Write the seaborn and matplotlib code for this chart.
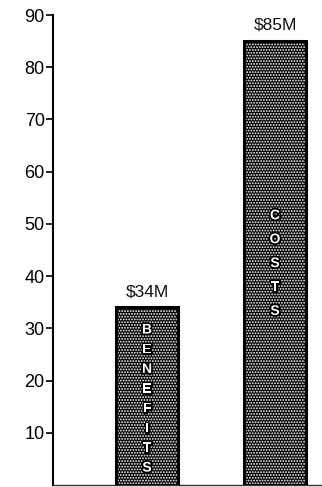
import matplotlib
matplotlib.use("Agg")
import matplotlib.pyplot as plt
from matplotlib.patches import Rectangle
import matplotlib.patheffects as pe
import seaborn as sns
import pandas as pd

categories = ["Benefits", "Costs"]
values = [34, 85]
value_labels = ["$34M", "$85M"]
inner_labels = ["BENEFITS", "COSTS"]
yticks = [10, 20, 30, 40, 50, 60, 70, 80, 90]

sns.set_style("white")
plt.rcParams["font.family"] = ["Liberation Sans", "DejaVu Sans"]
plt.rcParams["hatch.linewidth"] = 0.9

df = pd.DataFrame({"category": categories, "value": values})

fig = plt.figure(figsize=(3.22, 4.87), dpi=100)
ax = fig.add_axes([53/322, 2/487, 269/322, 470/487])

sns.barplot(data=df, x="category", y="value", color="black", width=0.49,
            ax=ax, saturation=1)

for p, lab in zip(ax.patches, value_labels):
    p.set_facecolor("black")
    p.set_edgecolor("white")
    p.set_hatch("......")
    p.set_linewidth(0)
    ax.add_patch(Rectangle((p.get_x(), p.get_y()), p.get_width(), p.get_height(),
                           fill=False, edgecolor="black", linewidth=2.2, zorder=3))
    cx = p.get_x() + p.get_width() / 2
    ax.annotate(lab, (cx, p.get_height()), xytext=(0, 6), textcoords="offset points",
                ha="center", va="bottom", fontsize=12.5, color="#111111")

effects = [pe.withStroke(linewidth=2.5, foreground="black")]
# vertical stacked letters
ax.text(0, 2, "\n".join(inner_labels[0]), ha="center", va="bottom", color="white",
        fontsize=10, fontweight="bold", linespacing=1.52, zorder=4,
        path_effects=effects)
ax.text(1, 32, "\n".join(inner_labels[1]), ha="center", va="bottom", color="white",
        fontsize=10, fontweight="bold", linespacing=1.9, zorder=4,
        path_effects=effects)

ax.set_xlim(-0.734, 1.367)
ax.set_ylim(0, 90)
ax.set_yticks(yticks)
ax.set_yticklabels([str(t) for t in yticks], fontsize=13)
ax.set_xticks([])
ax.set_xlabel("")
ax.set_ylabel("")
ax.tick_params(axis="y", direction="out", length=5, width=1.2, pad=1, colors="black",
               left=True)
for s in ["top", "right"]:
    ax.spines[s].set_visible(False)
ax.spines["left"].set_linewidth(1.5)
ax.spines["left"].set_color("black")
ax.spines["bottom"].set_linewidth(1)
ax.spines["bottom"].set_color("#333333")

fig.savefig("out.png", dpi=100)
